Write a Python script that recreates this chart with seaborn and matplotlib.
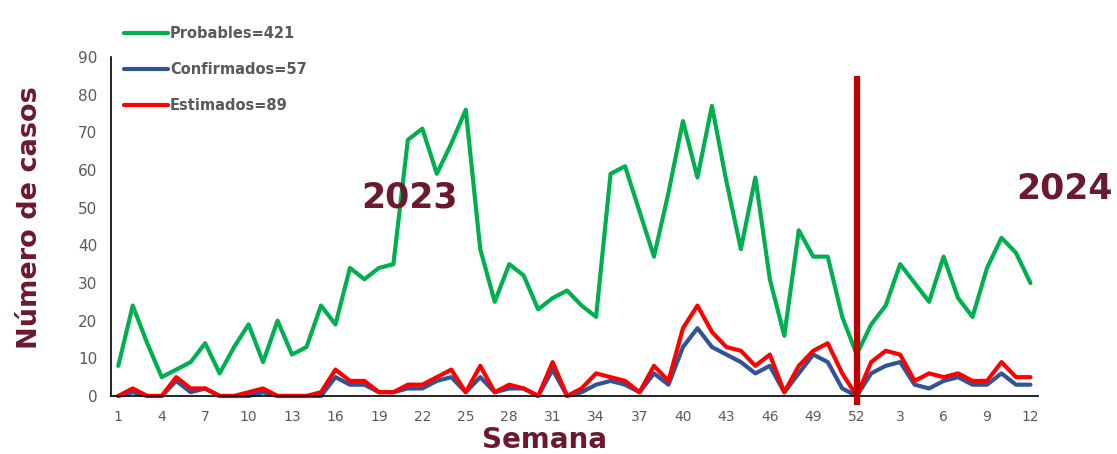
import matplotlib
matplotlib.use("Agg")
import matplotlib.pyplot as plt
import seaborn as sns
import pandas as pd
import numpy as np

# semanas epidemiologicas 2023 (1-52) y 2024 (1-12)
semanas = list(range(1, 53)) + list(range(1, 13))

probables = [8, 24, 14, 5, 7, 9, 14, 6, 13, 19, 9, 20, 11, 13, 24, 19, 34, 31, 34, 35,
             68, 71, 59, 67, 76, 39, 25, 35, 32, 23, 26, 28, 24, 21, 59, 61, 49, 37, 54, 73,
             58, 77, 57, 39, 58, 31, 16, 44, 37, 37, 21, 11,
             19, 24, 35, 30, 25, 37, 26, 21, 34, 42, 38, 30]
confirmados = [0, 1, 0, 0, 4, 1, 2, 0, 0, 0, 1, 0, 0, 0, 0, 5, 3, 3, 1, 1,
               2, 2, 4, 5, 1, 5, 1, 2, 2, 0, 7, 0, 1, 3, 4, 3, 1, 6, 3, 13,
               18, 13, 11, 9, 6, 8, 1, 6, 11, 9, 2, 0,
               6, 8, 9, 3, 2, 4, 5, 3, 3, 6, 3, 3]
estimados = [0, 2, 0, 0, 5, 2, 2, 0, 0, 1, 2, 0, 0, 0, 1, 7, 4, 4, 1, 1,
             3, 3, 5, 7, 1, 8, 1, 3, 2, 0, 9, 0, 2, 6, 5, 4, 1, 8, 4, 18,
             24, 17, 13, 12, 8, 11, 1, 8, 12, 14, 6, 0,
             9, 12, 11, 4, 6, 5, 6, 4, 4, 9, 5, 5]

series = ["Probables=421", "Confirmados=57", "Estimados=89"]
colores = ["#00B050", "#2F5597", "#FF0000"]
maroon = "#6B1A2E"
gris = "#595959"

idx = np.arange(len(semanas))
df = pd.DataFrame({
    "i": np.concatenate([idx, idx, idx]),
    "casos": probables + confirmados + estimados,
    "serie": np.repeat(series, len(semanas)),
})

sns.set_style("white")
plt.rcParams["font.family"] = ["DejaVu Sans"]

fig = plt.figure(figsize=(11.17, 4.54), dpi=100)
ax = fig.add_axes([0.0994, 0.1278, 0.8296, 0.7466])

sns.lineplot(data=df, x="i", y="casos", hue="serie", hue_order=series,
             palette=colores, linewidth=3, ax=ax, clip_on=False, legend=True)

ax.set_xlim(-0.5, len(semanas) - 0.5)
ax.set_ylim(0, 90)
ax.set_yticks(range(0, 91, 10))
ax.set_yticklabels([str(v) for v in range(0, 91, 10)], fontsize=11, color=gris)

ax.set_xticks(idx[::3])
ax.set_xticklabels([str(semanas[k]) for k in idx[::3]], fontsize=10, color=gris)
ax.set_xticks(np.arange(-0.5, len(semanas), 1), minor=True)
ax.tick_params(axis="x", which="major", length=0, pad=10)
ax.tick_params(axis="x", which="minor", length=5, width=1, direction="out", color="black")
ax.tick_params(axis="y", length=5, width=1, direction="out", color="black", pad=5)

for s in ["top", "right"]:
    ax.spines[s].set_visible(False)
for s in ["left", "bottom"]:
    ax.spines[s].set_color("black")
    ax.spines[s].set_linewidth(1.2)

# linea de corte entre 2023 y 2024
ax.plot([51, 51], [-2.5, 85], color="#C00000", linewidth=4.5, clip_on=False,
        zorder=5, solid_capstyle="butt")

ax.text(16.8, 52.8, "2023", fontsize=25, fontweight="bold", color=maroon, ha="left", va="center")
ax.text(62.0, 55.2, "2024", fontsize=25, fontweight="bold", color=maroon, ha="left", va="center",
        clip_on=False)

ax.set_xlabel("Semana", fontsize=20, fontweight="bold", color=maroon)
ax.xaxis.set_label_coords(0.468, -0.088)
ax.set_ylabel("Número de casos", fontsize=19.5, fontweight="bold", color=maroon)
ax.yaxis.set_label_coords(-0.073, 0.525)

handles, labels = ax.get_legend_handles_labels()
ax.get_legend().remove()
leg = fig.legend(handles, labels, loc="upper left", bbox_to_anchor=(0.111, 0.942),
                 frameon=False, borderpad=0, borderaxespad=0,
                 handlelength=3.0, handletextpad=0.15, labelspacing=1.42,
                 prop={"size": 10.5, "weight": "bold"})
for t in leg.get_texts():
    t.set_color(gris)

fig.savefig("out.png", dpi=100)
